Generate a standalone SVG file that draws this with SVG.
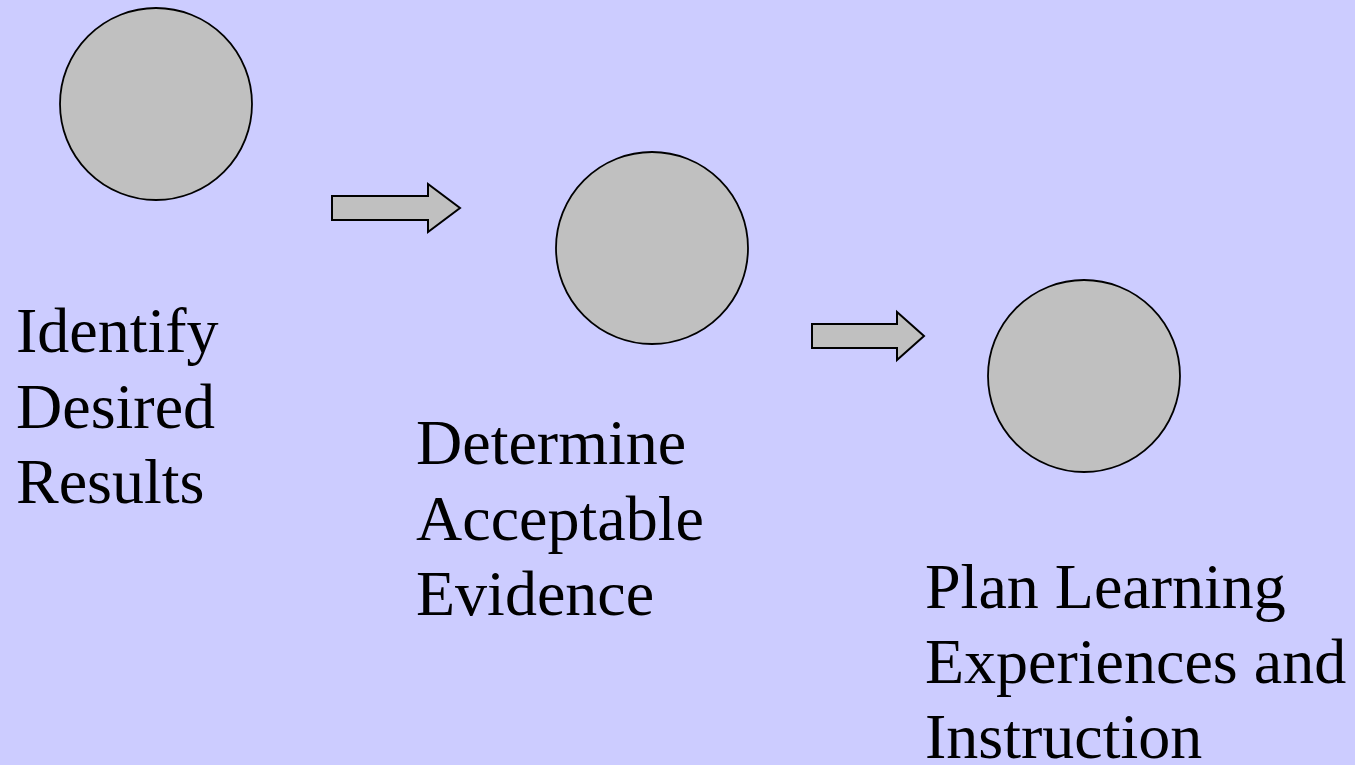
<svg xmlns="http://www.w3.org/2000/svg" width="1355" height="765" viewBox="0 0 1355 765">
<style>
.n{fill:#C0C0C0;stroke:#000;stroke-width:1.8}
.a{fill:#C0C0C0;stroke:#000;stroke-width:2;stroke-linejoin:miter}
.t{font-family:"Liberation Serif","Times New Roman",serif;font-size:64px;fill:#000}
</style>
<rect width="1355" height="765" fill="#CCCCFF"/>
<g id="node1">
<circle class="n" cx="156" cy="104" r="96"/>
<text class="t" x="16"><tspan x="16" y="352">Identify</tspan><tspan x="16" y="428">Desired</tspan><tspan x="16" y="503">Results</tspan></text>
</g>
<g id="node2">
<circle class="n" cx="652" cy="248" r="96"/>
<text class="t" x="416"><tspan x="416" y="464">Determine</tspan><tspan x="416" y="540">Acceptable</tspan><tspan x="416" y="615">Evidence</tspan></text>
</g>
<g id="node3">
<circle class="n" cx="1084" cy="376" r="96"/>
<text class="t" x="925"><tspan x="925" y="608">Plan Learning</tspan><tspan x="925" y="683">Experiences and</tspan><tspan x="925" y="758">Instruction</tspan></text>
</g>
<g id="connectors">
<path class="a" d="M332,196 H428 V184 L460,208 L428,232 V220 H332 Z"/>
<path class="a" d="M812,324 H897 V312 L924,336 L897,360 V348 H812 Z"/>
</g>
</svg>
